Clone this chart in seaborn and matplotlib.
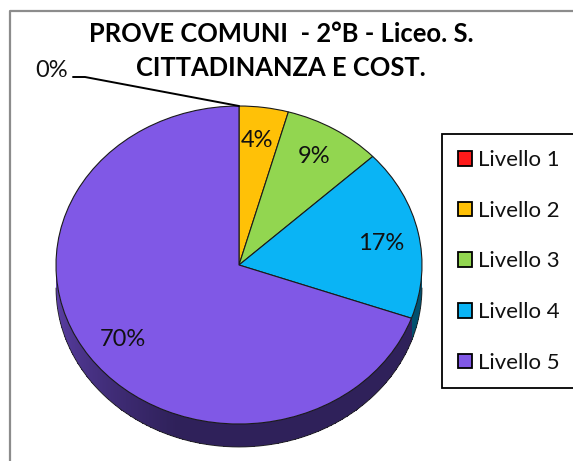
import matplotlib
matplotlib.use('Agg')
import matplotlib.pyplot as plt
import numpy as np
import seaborn as sns

levels = ['Livello 1', 'Livello 2', 'Livello 3', 'Livello 4', 'Livello 5']
counts = [0, 1, 2, 4, 16]
colors = ['#ff1a1a', '#ffc107', '#92d650', '#0ab4f5', '#8058e6']
title = 'PROVE COMUNI  - 2°B - Liceo. S.\nCITTADINANZA E COST.'

W, H = 573, 461
CX, CY, RX, RY, DEPTH = 239, 265, 183, 159, 23


def px(x, y):
    # picture pixels -> data units of the pie
    return (x - CX) / RX, (CY - y) / RY


sns.set_theme(style='white')
plt.rcParams['font.family'] = ['Lato', 'DejaVu Sans']

fig = plt.figure(figsize=(W / 100, H / 100), dpi=100, facecolor='white')
ax = fig.add_axes([0, 0, 1, 1])

wedges, _, autotexts = ax.pie(
    counts, colors=sns.color_palette(colors), startangle=90, counterclock=False,
    autopct='%.0f%%', wedgeprops={'edgecolor': '#1a1a1a', 'linewidth': 0.8, 'zorder': 3},
    textprops={'fontsize': 17, 'color': '#111111', 'zorder': 5},
)
ax.set_aspect('auto')
ax.set_xlim(px(0, 0)[0], px(W, 0)[0])
ax.set_ylim(px(0, H)[1], px(0, 0)[1])
ax.axis('off')

# label spots as placed in the original
for t, (x, y) in zip(autotexts, [(52, 70), (257, 140), (314, 156), (381, 243), (123, 339)]):
    t.set_position(px(x, y))
    t.set_ha('center')
    t.set_va('center')

# side wall of the pie, one mesh so the gradient has no seams
share = np.cumsum(counts) / sum(counts)
blue_end = 90 - 360 * share[3]
depth = DEPTH / RY
angles = np.linspace(0, -180, 361)
mids = (angles[:-1] + angles[1:]) / 2
mix = np.clip((mids + 110) / -70, 0, 1)[:, None]
wall = np.array([0x2f, 0x21, 0x5a]) * (1 - mix) + np.array([0x60, 0x42, 0xae]) * mix
wall[mids > blue_end] = [0x01, 0x50, 0x6e]
arc = np.radians(angles)
mesh_x = np.vstack([np.cos(arc), np.cos(arc)])
mesh_y = np.vstack([np.sin(arc), np.sin(arc) - depth])
ax.pcolormesh(mesh_x, mesh_y, (wall / 255)[None, :, :], shading='flat', antialiased=False,
              edgecolors='none', zorder=2)
ax.plot(np.cos(arc), np.sin(arc) - depth, color='#222222', lw=0.6, zorder=2.5)
ax.set_xlim(px(0, 0)[0], px(W, 0)[0])
ax.set_ylim(px(0, H)[1], px(0, 0)[1])

# leader line of the 0% label
lx, ly = zip(px(73, 77), px(85, 77), px(239, 106))
ax.plot(lx, ly, color='black', lw=1.4, zorder=4)

# chart frame, only top and left fall inside the picture
ax.plot(*zip(px(W, 11), px(10, 11), px(10, H)), color='#8c8c8c', lw=1.6, zorder=1)

ax.text(*px(281, 51), title, ha='center', va='center', fontsize=18.4,
        fontweight='bold', color='black', linespacing=1.5, zorder=5)

leg = ax.legend(
    wedges, levels, loc='upper left', bbox_to_anchor=(442 / W, 1 - 134.5 / H),
    bbox_transform=fig.transFigure, borderaxespad=0, fontsize=16,
    frameon=True, fancybox=False, framealpha=1, edgecolor='black',
    handlelength=0.63, handleheight=0.63, handletextpad=0.3,
    labelspacing=1.38, borderpad=0.7, labelcolor='#111111',
)
leg.get_frame().set_linewidth(1.3)
leg.set_zorder(6)
for h in leg.get_patches():
    h.set_linewidth(1.3)
    h.set_edgecolor('black')

fig.savefig('out.png', dpi=100)
